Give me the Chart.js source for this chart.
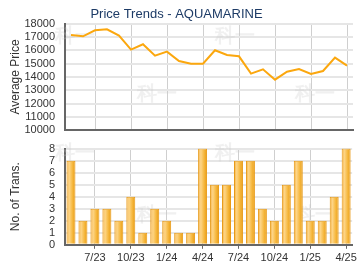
<!DOCTYPE html>
<html>
<head>
<meta charset="utf-8">
<script src="https://cdn.jsdelivr.net/npm/chart.js@4/dist/chart.umd.min.js"></script>
<style>
  html, body { margin: 0; padding: 0; background: #fff; }
  #wrap { position: relative; width: 360px; height: 270px; overflow: hidden; }
  #top-box { position: absolute; left: 0; top: 0; width: 360px; height: 147px; }
  #bottom-box { position: absolute; left: 0; top: 132px; width: 360px; height: 138px; }
</style>
</head>
<body>
<div id="wrap">
  <div id="top-box"><canvas id="price-chart"></canvas></div>
  <div id="bottom-box"><canvas id="trans-chart"></canvas></div>
</div>
<script>
const months = ['5/23', '6/23', '7/23', '8/23', '9/23', '10/23', '11/23', '12/23',
  '1/24', '2/24', '3/24', '4/24', '5/24', '6/24', '7/24', '8/24', '9/24', '10/24',
  '11/24', '12/24', '1/25', '2/25', '3/25', '4/25'];
const avgPrice = [17150, 17050, 17500, 17575, 17100, 16050, 16450, 15600, 15900, 15200,
  15000, 15000, 16000, 15650, 15550, 14250, 14575, 13800, 14400, 14600, 14225, 14450,
  15450, 14850];
const numTrans = [7, 2, 3, 3, 2, 4, 1, 3, 2, 1, 1, 8, 5, 5, 7, 7, 3, 2, 5, 7, 2, 2, 4, 8];

const FONT = "'Liberation Sans', Arial, sans-serif";
const AXIS_COLOR = '#666';
const TEXT_COLOR = '#333';

// every third month gets a label, a grid line and a tick mark
const shown = i => i % 3 === 2;

// faint "科一" watermark
function watermark(spots) {
  return {
    id: 'watermark',
    beforeDatasetsDraw(chart) {
      const c = chart.ctx;
      c.save();
      c.font = 'bold 20px ' + FONT;
      c.fillStyle = 'rgba(200, 200, 200, 0.28)';
      c.textBaseline = 'middle';
      spots.forEach(([x, y]) => c.fillText('科一', x, y));
      c.restore();
    }
  };
}

function fixWidth(scale) {
  scale.width = 65;
}

new Chart(document.getElementById('price-chart'), {
  type: 'line',
  data: {
    labels: months,
    datasets: [{
      data: avgPrice,
      borderColor: '#fba70e',
      borderWidth: 2,
      pointRadius: 0,
      tension: 0
    }]
  },
  options: {
    responsive: true,
    maintainAspectRatio: false,
    animation: false,
    layout: { padding: { left: 0, right: 7, top: 0, bottom: 1 } },
    plugins: {
      legend: { display: false },
      tooltip: { enabled: false },
      title: {
        display: true,
        text: 'Price Trends - AQUAMARINE',
        color: '#1d3b66',
        font: { family: FONT, size: 13, weight: 'normal' },
        padding: { top: 7, bottom: 1 }
      }
    },
    scales: {
      x: {
        offset: true,
        afterFit: s => { s.height = 0; },
        grid: {
          offset: false,
          drawTicks: false,
          color: ctx => shown(ctx.index) ? '#cfcfcf' : 'transparent'
        },
        border: { color: AXIS_COLOR, width: 2 },
        ticks: { display: false, autoSkip: false }
      },
      y: {
        min: 10000,
        max: 18000,
        afterFit: fixWidth,
        grid: { drawTicks: false, color: '#e6e6e6', lineWidth: 2 },
        border: { color: AXIS_COLOR, width: 2 },
        ticks: {
          stepSize: 1000,
          autoSkip: false,
          padding: 10,
          color: TEXT_COLOR,
          font: { family: FONT, size: 11 },
          callback: v => String(v)
        },
        title: {
          display: true,
          text: 'Average Price',
          color: TEXT_COLOR,
          font: { family: FONT, size: 12 },
          padding: { top: 8, bottom: 0 }
        }
      }
    }
  },
  plugins: [watermark([[55, 36], [137, 94], [215, 36], [295, 94]])]
});

new Chart(document.getElementById('trans-chart'), {
  type: 'bar',
  data: {
    labels: months,
    datasets: [{
      data: numTrans,
      categoryPercentage: 1,
      barPercentage: 0.75,
      borderColor: '#e89a16',
      borderWidth: 1,
      backgroundColor: ctx => {
        const chart = ctx.chart;
        if (!chart.chartArea) return '#f5b43a';
        const x = chart.scales.x.getPixelForValue(ctx.dataIndex);
        const g = chart.ctx.createLinearGradient(x - 4.5, 0, x + 4.5, 0);
        g.addColorStop(0, '#f3ad3c');
        g.addColorStop(0.3, '#fdd587');
        g.addColorStop(0.65, '#f6b941');
        g.addColorStop(1, '#e99a10');
        return g;
      }
    }]
  },
  options: {
    responsive: true,
    maintainAspectRatio: false,
    animation: false,
    layout: { padding: { left: 0, right: 7, top: 15, bottom: 2 } },
    plugins: {
      legend: { display: false },
      tooltip: { enabled: false }
    },
    scales: {
      x: {
        offset: true,
        grid: {
          offset: false,
          tickLength: 4,
          color: ctx => shown(ctx.index) ? '#cfcfcf' : 'transparent',
          tickColor: ctx => shown(ctx.index) ? AXIS_COLOR : 'transparent'
        },
        border: { color: AXIS_COLOR, width: 2 },
        ticks: {
          autoSkip: false,
          maxRotation: 0,
          padding: 3,
          color: TEXT_COLOR,
          font: { family: FONT, size: 11 },
          callback: (val, i) => shown(i) ? months[i] : ''
        }
      },
      y: {
        min: 0,
        max: 8,
        afterFit: fixWidth,
        grid: { drawTicks: false, color: '#e6e6e6', lineWidth: 2 },
        border: { color: AXIS_COLOR, width: 2 },
        ticks: {
          stepSize: 1,
          autoSkip: false,
          padding: 10,
          color: TEXT_COLOR,
          font: { family: FONT, size: 11 }
        },
        title: {
          display: true,
          text: 'No. of Trans.',
          color: TEXT_COLOR,
          font: { family: FONT, size: 12 },
          padding: { top: 8, bottom: 0 }
        }
      }
    }
  },
  plugins: [watermark([[55, 21], [137, 83], [215, 21], [295, 83]])]
});
</script>
</body>
</html>
